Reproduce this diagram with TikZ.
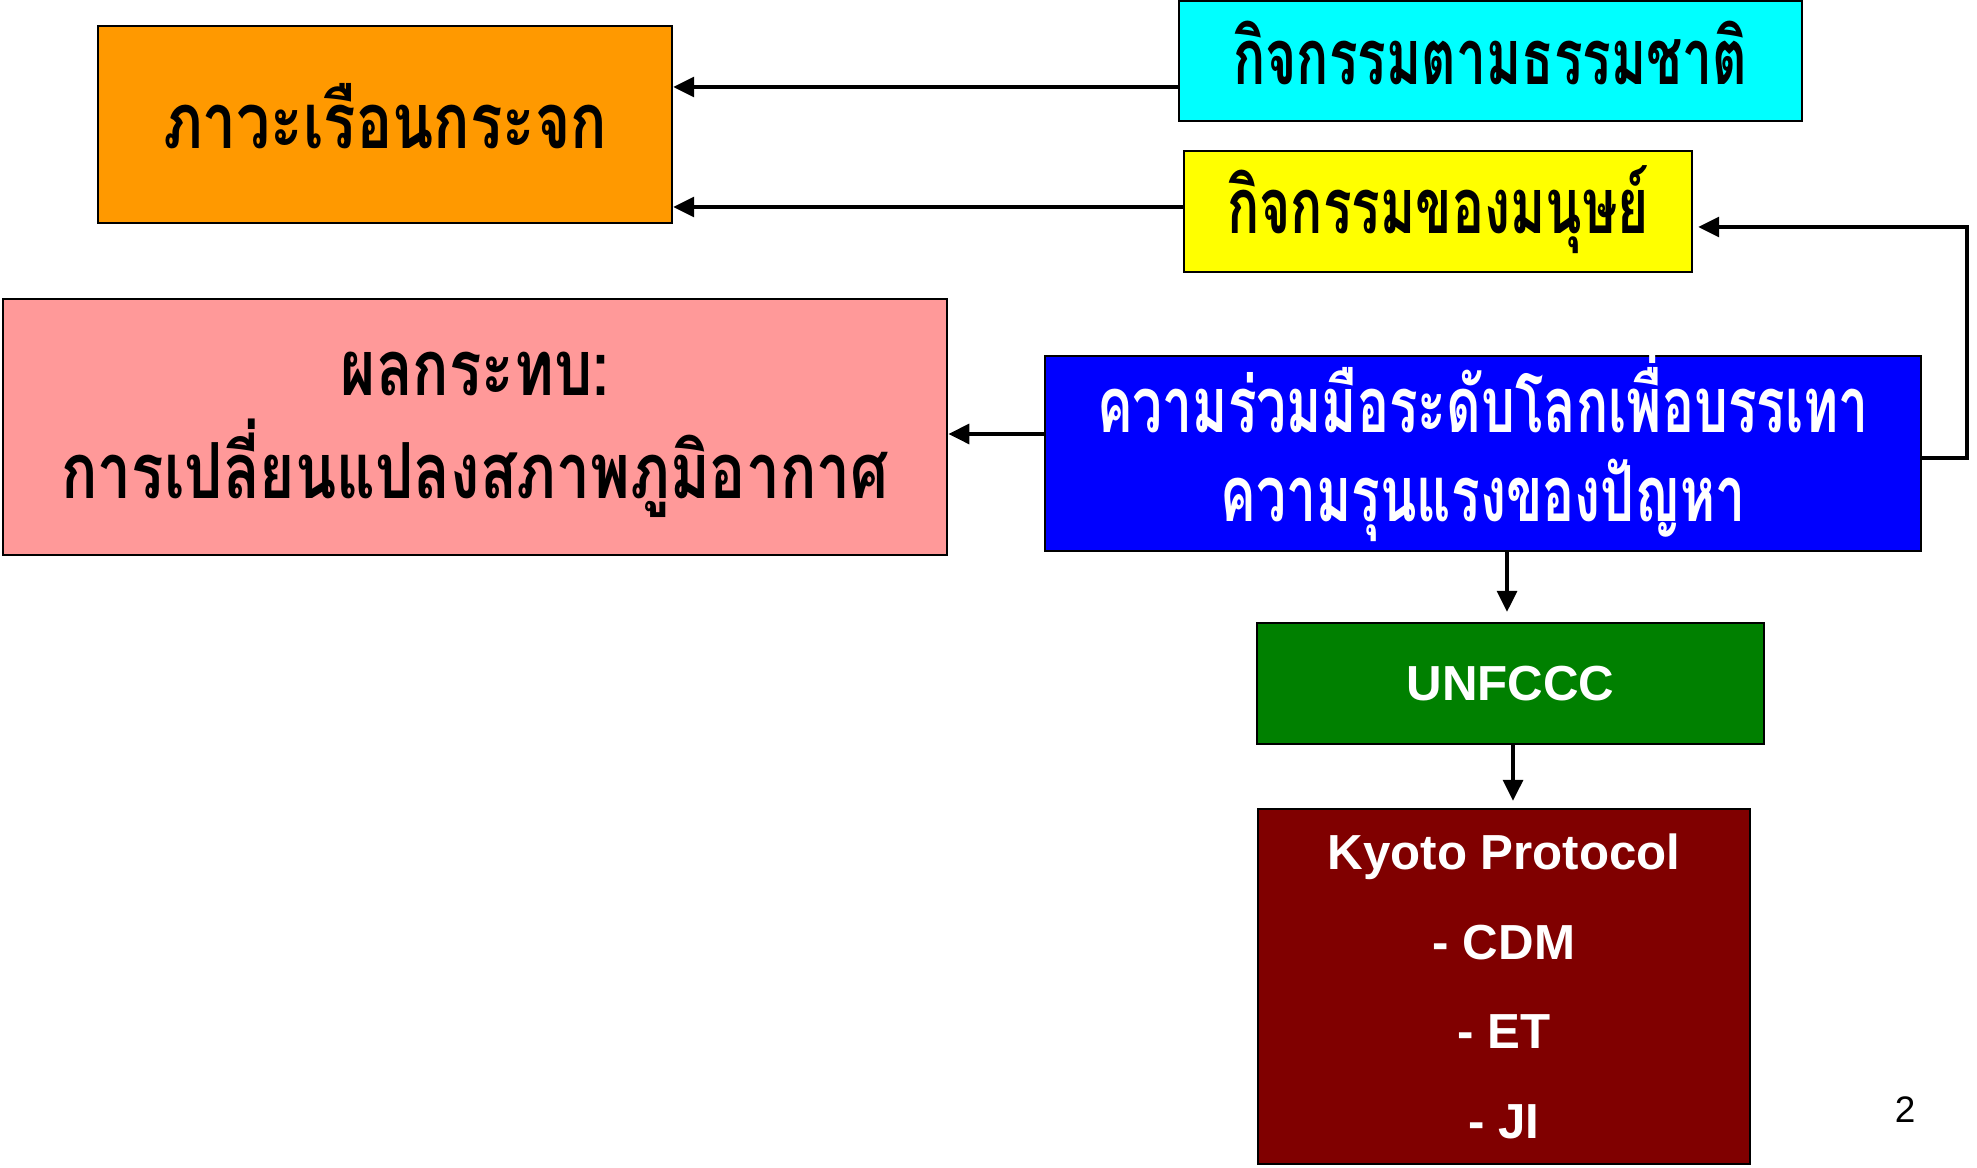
\documentclass[tikz,border=0pt]{standalone}
\usepackage{fontspec}
\setmainfont{Liberation Sans}
\newfontfamily\thaiN[Script=Thai,FakeStretch=0.69]{Loma}
\newfontfamily\thaiW[Script=Thai,FakeStretch=0.78]{Loma}
\usetikzlibrary{arrows.meta}
\definecolor{corange}{HTML}{FF9900}
\definecolor{ccyan}{HTML}{00FFFF}
\definecolor{cyellow}{HTML}{FFFF00}
\definecolor{cpink}{HTML}{FF9999}
\definecolor{cblue}{HTML}{0000FF}
\definecolor{cgreen}{HTML}{008000}
\definecolor{cmaroon}{HTML}{800000}
\begin{document}
\begin{tikzpicture}[x=0.01cm,y=-0.01cm,
  box/.style={draw=black, line width=0.5pt, inner sep=0pt},
  txt/.style={inner sep=0pt, align=center},
  arr/.style={line width=1.35pt, -{Triangle[length=6pt,width=5.5pt]}},
  thaiNtxt/.style={font=\thaiN\bfseries\fontsize{22}{25.3}\selectfont},
  thaiWtxt/.style={font=\thaiW\bfseries\fontsize{22}{29.3}\selectfont},
  lattxt/.style={font=\bfseries\fontsize{14}{25.5}\selectfont, text=white}]
\useasboundingbox (0,0) rectangle (1977,1168);
% boxes
\node[box, fill=corange, minimum width=5.74cm, minimum height=1.97cm] (orange) at (385,124.5) {};
\node[box, fill=ccyan, minimum width=6.23cm, minimum height=1.20cm] (cyan) at (1490.5,61) {};
\node[box, fill=cyellow, minimum width=5.08cm, minimum height=1.21cm] (yellow) at (1438,211.5) {};
\node[box, fill=cpink, minimum width=9.44cm, minimum height=2.56cm] (pink) at (475,427) {};
\node[box, fill=cblue, minimum width=8.76cm, minimum height=1.95cm] (blue) at (1483,453.5) {};
\node[box, fill=cgreen, minimum width=5.07cm, minimum height=1.21cm] (green) at (1510.5,683.5) {};
\node[box, fill=cmaroon, minimum width=4.92cm, minimum height=3.55cm] (red) at (1504,986.5) {};
% texts
\node[txt, thaiWtxt] (orangeT) at ([yshift=0.08cm]orange.center) {ภาวะเรือนกระจก};
\node[txt, thaiNtxt] (cyanT) at ([yshift=0.08cm]cyan.center) {กิจกรรมตามธรรมชาติ};
\node[txt, thaiNtxt] (yellowT) at ([yshift=0.02cm]yellow.center) {กิจกรรมของมนุษย์};
\node[txt, thaiWtxt] (pinkT) at ([yshift=-0.08cm]pink.center) {ผลกระทบ:\\การเปลี่ยนแปลงสภาพภูมิอากาศ};
\node[txt, thaiNtxt, text=white] (blueT) at ([yshift=0.065cm]blue.center) {ความร่วมมือระดับโลกเพื่อบรรเทา\\ความรุนแรงของปัญหา};
\node[txt, lattxt] (greenT) at (green.center) {UNFCCC};
\node[txt, lattxt] (redT) at (red.center) {Kyoto Protocol\\- CDM\\- ET\\- JI};
\node[font=\fontsize{10.5}{12}\selectfont] (pnum) at (1905,1110) {2};
% connectors
\draw[arr] (cyan.west |- 0,87) -- (orange.east |- 0,87);
\draw[arr] (yellow.west |- 0,207) -- (orange.east |- 0,207);
\draw[arr] (blue.west |- 0,434) -- (pink.east |- 0,434);
\draw[arr, shorten >=0.05cm] (blue.east |- 0,458) -- (1967,458) -- (1967,227) -- (yellow.east |- 0,227);
\draw[arr, shorten >=0.1cm] (blue.south -| 1507,0) -- (green.north -| 1507,0);
\draw[arr, shorten >=0.07cm] (green.south -| 1513,0) -- (red.north -| 1513,0);
\end{tikzpicture}
\end{document}
